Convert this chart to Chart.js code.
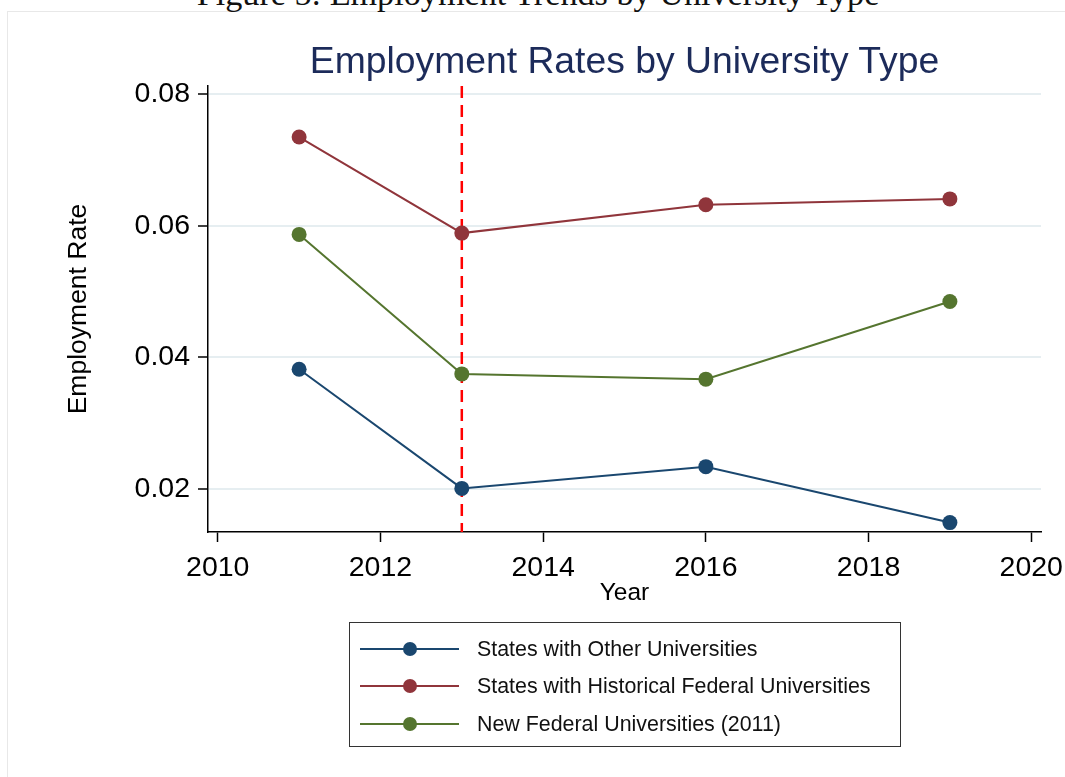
<!DOCTYPE html>
<html>
<head>
<meta charset="utf-8">
<script src="https://cdn.jsdelivr.net/npm/chart.js@4.4.1/dist/chart.umd.min.js"></script>
<style>
  body { margin: 0; background: #fff; overflow: hidden; }
  #page { position: relative; width: 1065px; height: 777px; overflow: hidden; }
  #frame { position: absolute; left: 7px; top: 11px; width: 2000px; height: 2000px;
           border-left: 1.5px solid #e8e8e8; border-top: 1.5px solid #e8e8e8; }
  #caption { position: absolute; left: 0; top: -23px; width: 1076px; text-align: center;
             font-family: 'Liberation Serif', 'DejaVu Serif', serif; font-size: 34.2px; line-height: 34px; color: #111; }
  #chartTitle { position: absolute; left: 208px; top: 42px; width: 833px; text-align: center;
                font-family: 'Liberation Sans', Arial, sans-serif; font-size: 37.3px; line-height: 37px; color: #1c2b5a; }
  canvas { position: absolute; left: 0; top: 0; }
  #legend { position: absolute; left: 349px; top: 622px; width: 552px; height: 125px; box-sizing: border-box;
            border: 1.5px solid #333; font-family: 'Liberation Sans', Arial, sans-serif; font-size: 21.4px; color: #111; }
  .legend-row { position: absolute; left: 0; height: 36px; display: flex; align-items: center; }
  .legend-line { position: relative; margin-left: 10px; width: 99px; height: 2px; }
  .legend-dot { position: absolute; left: 43px; top: -6px; width: 14px; height: 14px; border-radius: 50%; }
  .legend-text { margin-left: 18px; white-space: nowrap; }
</style>
</head>
<body>
<div id="page">
  <div id="frame"></div>
  <div id="caption">Figure 5: Employment Trends by University Type</div>
  <canvas id="employmentChart" width="1065" height="777"></canvas>
  <div id="chartTitle">Employment Rates by University Type</div>
  <div id="legend"></div>
</div>
<script>
const years = [2011, 2013, 2016, 2019];
const otherUniversities = [0.0382, 0.0201, 0.0234, 0.0149];
const historicalFederal = [0.0735, 0.0589, 0.0632, 0.0641];
const newFederal = [0.0587, 0.0375, 0.0367, 0.0485];

const seriesLabels = [
    'States with Other Universities',
    'States with Historical Federal Universities',
    'New Federal Universities (2011)'
];
const xTicks = [2010, 2012, 2014, 2016, 2018, 2020];
const yTicks = [0.02, 0.04, 0.06, 0.08];
const policyYear = 2013;

const colors = ['#1a476f', '#90353b', '#55752f'];

function toPoints(values) {
    return years.map((year, i) => ({ x: year, y: values[i] }));
}

// vertical dashed marker at the policy year
const policyLine = {
    id: 'policyLine',
    beforeDatasetsDraw(chart) {
        const { ctx, chartArea, scales } = chart;
        const x = scales.x.getPixelForValue(policyYear);
        ctx.save();
        ctx.strokeStyle = '#ff0000';
        ctx.lineWidth = 2.5;
        ctx.setLineDash([12, 7]);
        ctx.beginPath();
        ctx.moveTo(x, chartArea.top);
        ctx.lineTo(x, chartArea.bottom);
        ctx.stroke();
        ctx.restore();
    }
};

const font = "'Liberation Sans', Arial, sans-serif";
Chart.defaults.font.family = font;
Chart.defaults.color = '#000';

const ctx = document.getElementById('employmentChart').getContext('2d');

const chart = new Chart(ctx, {
    type: 'line',
    data: {
        datasets: [otherUniversities, historicalFederal, newFederal].map((values, i) => ({
            label: seriesLabels[i],
            data: toPoints(values),
            borderColor: colors[i],
            backgroundColor: colors[i],
            pointBackgroundColor: colors[i],
            pointBorderColor: colors[i],
            borderWidth: 2,
            pointRadius: 7.5,
            pointBorderWidth: 0,
            tension: 0
        }))
    },
    options: {
        responsive: false,
        animation: false,
        events: [],
        layout: { padding: { left: 0, top: 86, right: 24, bottom: 165 } },
        plugins: {
            legend: { display: false },
            title: { display: false },
            tooltip: { enabled: false }
        },
        scales: {
            x: {
                type: 'linear',
                min: 2009.88,
                max: 2020.12,
                afterFit: (scale) => {
                    scale.height = 80;
                    scale.paddingLeft = 0;
                    scale.paddingRight = 0;
                },
                afterBuildTicks: (scale) => { scale.ticks = xTicks.map(v => ({ value: v })); },
                grid: { drawOnChartArea: false, tickLength: 10, tickColor: '#000', tickWidth: 1.5 },
                border: { color: '#000', width: 1.5 },
                ticks: { font: { size: 28.5 }, padding: 9, maxRotation: 0, callback: (v) => String(v) },
                title: { display: true, text: 'Year', font: { size: 24.5 }, padding: { top: 0, bottom: 4 } }
            },
            y: {
                min: 0.01347,
                max: 0.08126,
                afterFit: (scale) => {
                    scale.width = 208;
                    scale.paddingTop = 0;
                    scale.paddingBottom = 0;
                },
                afterBuildTicks: (scale) => { scale.ticks = yTicks.map(v => ({ value: v })); },
                grid: { color: '#e6eef1', lineWidth: 2, tickLength: 10, tickColor: '#000', tickWidth: 1.5 },
                border: { color: '#000', width: 1.5 },
                ticks: { font: { size: 28.5 }, padding: 8, callback: (v) => v.toFixed(2) },
                title: { display: true, text: 'Employment Rate', font: { size: 26.5 }, padding: { top: 63, bottom: 0 } }
            }
        }
    },
    plugins: [policyLine]
});

// legend box built from the datasets
const legendBox = document.getElementById('legend');
chart.data.datasets.forEach((ds, i) => {
    const row = document.createElement('div');
    row.className = 'legend-row';
    row.style.top = Math.round(8 + 37.3 * i) + 'px';
    row.innerHTML = `<span class="legend-line" style="background:${ds.borderColor}">` +
        `<span class="legend-dot" style="background:${ds.borderColor}"></span></span>` +
        `<span class="legend-text">${ds.label}</span>`;
    legendBox.appendChild(row);
});
</script>
</body>
</html>
